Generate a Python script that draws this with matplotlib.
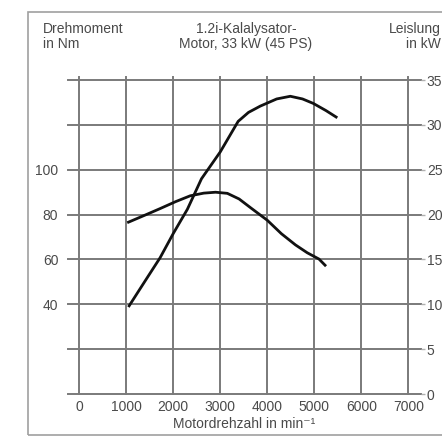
import matplotlib.pyplot as plt
from matplotlib.patches import Rectangle

plt.rcParams['font.family'] = ['Liberation Sans', 'DejaVu Sans']

# Drehzahl-Achse und Gitter
drehzahl_ticks = [0, 1000, 2000, 3000, 4000, 5000, 6000, 7000]
nm_gitter = [0, 20, 40, 60, 80, 100, 120, 140]
nm_labels = [40, 60, 80, 100]
kw_ticks = [0, 5, 10, 15, 20, 25, 30, 35]

# Drehmomentkurve (Nm)
dm_drehzahl = [1020, 1400, 1720, 2050, 2360, 2650, 2900, 3150, 3400, 3650, 4000, 4300, 4600, 4850, 5100, 5250]
dm_nm = [76.4, 79.8, 82.7, 85.8, 88.4, 89.6, 90.0, 89.5, 87.0, 83.0, 77.5, 71.5, 66.5, 63.0, 60.2, 57.0]

# Leistungskurve (kW)
lt_drehzahl = [1045, 1400, 1720, 2000, 2300, 2600, 3000, 3380, 3600, 3850, 4200, 4490, 4750, 4980, 5250, 5490]
lt_kw = [9.7, 12.6, 15.2, 17.9, 20.6, 24.0, 27.0, 30.4, 31.4, 32.1, 32.9, 33.2, 32.9, 32.4, 31.6, 30.8]

W, H = 442, 437
fig = plt.figure(figsize=(W / 100, H / 100), dpi=100)
grau = '#4a4a4a'
fs = 10

# Rahmen
fig.patches.append(Rectangle((28 / W, 1 - 435 / H), 1.0, (435 - 12) / H,
                             transform=fig.transFigure, fill=False,
                             edgecolor='#a0a0a0', linewidth=1.2))

ax = fig.add_axes([68 / W, 1 - 394 / H, 352.5 / W, 315 / H])
ax.set_xlim(-240, 7260)
ax.set_ylim(0, 140.5)
for s in ax.spines.values():
    s.set_visible(False)
ax.patch.set_alpha(0)

gitter = '#7a7a7a'
for y in nm_gitter:
    ax.plot([-240, 7260], [y, y], color=gitter, lw=1.4, clip_on=False, zorder=1)
for x in drehzahl_ticks:
    ax.plot([x, x], [0, 141.5], color=gitter, lw=1.4, clip_on=False, zorder=1)

ax.plot(dm_drehzahl, dm_nm, color='#111111', lw=2.0, zorder=3,
        solid_joinstyle='round', solid_capstyle='butt')

ax.set_xticks(drehzahl_ticks)
ax.set_yticks(nm_labels)
ax.tick_params(axis='x', length=0, pad=4.5, labelsize=fs, labelcolor=grau)
ax.tick_params(axis='y', length=0, pad=7, labelsize=fs, labelcolor=grau)
ax.set_xlabel('Motordrehzahl in min⁻¹', fontsize=fs, color=grau, labelpad=2)

ax2 = ax.twinx()
ax2.set_ylim(0, 140.5 / 4)
for s in ax2.spines.values():
    s.set_visible(False)
ax2.plot(lt_drehzahl, lt_kw, color='#111111', lw=2.0, zorder=3,
         solid_joinstyle='round', solid_capstyle='butt')
ax2.set_yticks(kw_ticks)
ax2.tick_params(axis='y', length=3, width=1.0, color='#b0b0b0', pad=1.5,
                labelsize=fs, labelcolor=grau)

fig.text(43 / W, 1 - 36.5 / H, 'Drehmoment\nin Nm', fontsize=fs, color=grau,
         ha='left', va='center', linespacing=1.15)
fig.text(246 / W, 1 - 36.5 / H, '1.2i-Kalalysator-\nMotor, 33 kW (45 PS)', fontsize=fs,
         color=grau, ha='center', va='center', linespacing=1.15)
fig.text(441 / W, 1 - 36.5 / H, 'Leislung\nin kW', fontsize=fs, color=grau,
         ha='right', va='center', linespacing=1.15, multialignment='right')

fig.savefig('out.png', dpi=100)
